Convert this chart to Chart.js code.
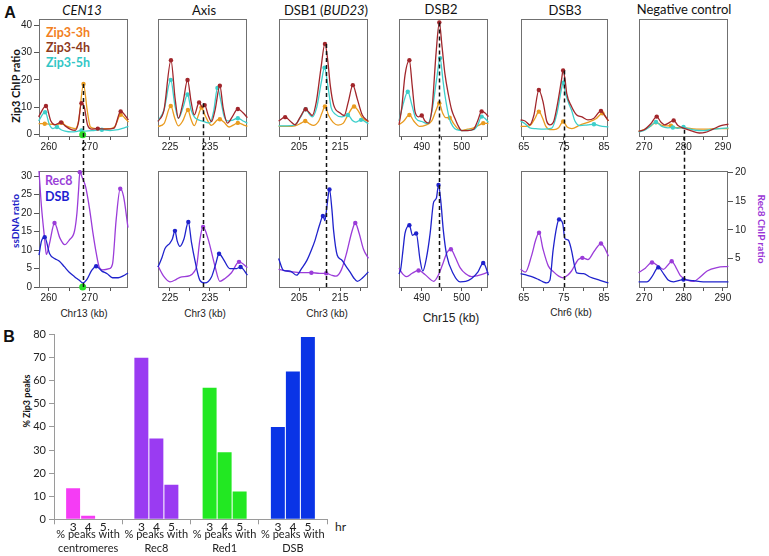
<!DOCTYPE html>
<html>
<head>
<meta charset="utf-8">
<title>Zip3 ChIP profiles and peak overlap</title>
<script src="https://cdn.jsdelivr.net/npm/chart.js@4.4.1/dist/chart.umd.min.js"></script>
<style>
  html, body { margin: 0; padding: 0; background: #fff; }
  #fig { position: relative; width: 769px; height: 556px; overflow: hidden; font-family: Lato, "Open Sans", sans-serif; color: #111; }
  #fig canvas { position: absolute; }
  .txt { position: absolute; white-space: nowrap; line-height: 1; transform: translate(-50%, -50%); }
  .txt.left { transform: translate(0, -50%); }
  .txt.up { transform: translate(-50%, -50%) rotate(-90deg); }
  .txt.down { transform: translate(-50%, -50%) rotate(90deg); }
  .ttl { font-size: 13px; }
  .leg { font-size: 12.5px; font-weight: bold; }
  .kb { font-family: "Liberation Sans", Arial, sans-serif; font-size: 10px; color: #222; }
  .yt { font-weight: bold; }
  .tag { font-family: "Liberation Sans", Arial, sans-serif; font-weight: bold; font-size: 16px; }
</style>
</head>
<body>
<div id="fig">
  <div class="txt tag" style="left:10px;top:13px">A</div>
  <div class="txt tag" style="left:9px;top:337px">B</div>

  <div class="txt ttl" style="left:82px;top:10px"><i>CEN13</i></div>
  <div class="txt ttl" style="left:204px;top:10px">Axis</div>
  <div class="txt ttl" style="left:326px;top:10px">DSB1 (<i>BUD23</i>)</div>
  <div class="txt ttl" style="left:441px;top:9px">DSB2</div>
  <div class="txt ttl" style="left:565px;top:10px">DSB3</div>
  <div class="txt ttl" style="left:684px;top:9px">Negative control</div>

  <div class="txt left leg" style="left:46px;top:33px;color:#F2801E">Zip3-3h</div>
  <div class="txt left leg" style="left:46px;top:48px;color:#8E3A1C">Zip3-4h</div>
  <div class="txt left leg" style="left:46px;top:63px;color:#33C6C6">Zip3-5h</div>
  <div class="txt left leg" style="left:45px;top:181px;color:#9B3FD8">Rec8</div>
  <div class="txt left leg" style="left:45px;top:197px;color:#1E1ED2">DSB</div>

  <div class="txt up yt" style="left:15px;top:86px;font-size:11px">Zip3 ChIP ratio</div>
  <div class="txt up yt" style="left:15px;top:221px;font-size:10px;color:#2323C8">ssDNA ratio</div>
  <div class="txt down yt" style="left:762px;top:229px;font-size:10px;color:#9A35D6">Rec8 ChIP ratio</div>
  <div class="txt up yt" style="left:26px;top:401px;font-size:9px">% Zip3 peaks</div>

  <div class="txt kb" style="left:84px;top:314px">Chr13 (kb)</div>
  <div class="txt kb" style="left:205px;top:314px">Chr3 (kb)</div>
  <div class="txt kb" style="left:327px;top:314px">Chr3 (kb)</div>
  <div class="txt kb" style="left:451px;top:318px;font-size:12px">Chr15 (kb)</div>
  <div class="txt kb" style="left:571px;top:313px">Chr6 (kb)</div>

  <div class="txt left" style="left:335px;top:527px;font-size:12px;color:#222">hr</div>
</div>
<script>
// ---- panel A, top row: Zip3 ChIP ratio, [kb, ratio]
const cen13Zip3h = [[257.5,4],[259,4],[260.5,3.8],[262,3.6],[263.2,4.3],[264.2,3.2],[265.5,2.5],[266.5,2.2],[267.3,5],[268.5,18.5],[269.4,9],[270.2,2.8],[271.5,2.2],[273,2.2],[275,2.2],[276.2,3],[277.6,7.3],[278.5,6.3],[279.5,4.6]];
const cen13Zip4h = [[257.5,6.5],[259.3,10.5],[260.5,5],[261.5,3.6],[263,4.5],[264,3.2],[265.5,1.8],[266.5,1.6],[267.2,4],[268,11.5],[268.7,10],[269.5,3.5],[270.5,2],[272,2.2],[274,2],[276,2.4],[277.6,8.5],[279.5,5.4]];
const cen13Zip5h = [[257.5,5],[259.1,8.2],[260.2,3.5],[261,2.2],[262,2.8],[263,1.8],[264,1.3],[265.5,1],[267,1.2],[268,1.5],[269,1.3],[271,1.5],[273,1.8],[275,1.5],[277,1.8],[278.5,2.5],[279.5,3]];

const axisZip3h = [[222,3],[223.5,4],[225.2,10.5],[226.2,6],[227.1,3.2],[228.2,5],[229.5,9],[230.3,5.5],[231.1,3.3],[232.1,7],[232.9,9.9],[233.8,7],[235.4,3.4],[236.9,5.4],[237.5,5.6],[238.5,4.6],[239.8,2.8],[241,3.6],[242,4.3],[243.5,3.5],[244.4,3]];
const axisZip4h = [[222,4.8],[223.5,9],[225.25,27.2],[226.3,13],[227.1,6],[228.3,12],[229.4,20],[230.3,12],[231.1,7.2],[232.3,11.8],[233.1,10],[233.7,10.8],[234.6,7],[235.4,4.8],[236.3,9],[237.5,17.9],[238.3,10],[239.4,4.2],[240.6,6.5],[242,9.4],[243.3,8],[244.4,6.2]];
const axisZip5h = [[222,5],[223.5,9],[225.2,20],[226.2,11],[227.1,6],[228.3,10],[229.4,14.7],[230.3,9],[231.1,6.5],[232,5.5],[233,5],[234,4.5],[235,4.3],[236,9],[236.9,17.1],[237.8,12],[238.5,7],[239.4,5],[240.5,5.2],[242,6],[243.3,5],[244.4,4.2]];

const dsb1Zip3h = [[200,3],[202,3],[204,3.2],[205.5,4.2],[206.5,5],[207.5,4],[208.5,3.4],[209.8,5],[210.6,8],[211.3,10.3],[212.2,7],[213.3,4.5],[214.5,3.5],[215.8,4.2],[217,7.5],[218.4,10.3],[219.3,9],[220.5,6],[221.9,4.8]];
const dsb1Zip4h = [[200,5],[201.6,6.4],[202.8,5],[204,3.6],[205.3,6.5],[206.6,9.3],[207.5,8],[208.2,7],[209.2,12],[210.3,24],[211.3,33.2],[212,27],[212.6,18],[213.4,11],[215,7.9],[216,7],[217,12],[218.1,18.1],[219.2,13],[220.4,7.2],[221.9,4.8]];
const dsb1Zip5h = [[200,3.2],[202,3.2],[204,3.6],[205.4,6.5],[206.6,9.3],[207.5,7.5],[208.2,6.5],[209.3,10],[210.4,19],[211.2,24.5],[212,18],[212.8,10],[213.8,7.5],[215.4,6.5],[216.9,7.2],[218,5.2],[218.8,4.6],[220.1,5.4],[221.9,4]];

const dsb2Zip3h = [[484.3,3.6],[485.5,5],[486.9,7.2],[488,5],[489.5,3],[491,3.5],[492.5,5],[493.6,9],[494.4,11.5],[495.2,8],[496,6.2],[497,6.2],[498,4],[499,2.2],[500,1.5],[501.5,2],[503,2.5],[504.5,3.6],[505.4,4.2],[506.7,4]];
const dsb2Zip4h = [[484.3,3.6],[485,10],[485.8,21.7],[486.9,27.2],[487.6,18],[488.3,8.5],[489.2,6.5],[490,7],[490.8,5],[491.7,4.2],[492.6,10],[493.6,30],[494.4,41],[495.1,32],[495.8,22.3],[496.7,14.5],[497.5,9],[498.3,6],[499.2,3],[500,1.5],[501.5,1.5],[503,2],[504,5],[505,8.5],[505.8,8],[506.7,6.6]];
const dsb2Zip5h = [[484.3,5],[485.5,12],[486.5,15.7],[487.5,11],[488.5,6],[490,4.8],[491.5,4],[492.6,9],[493.7,20],[494.6,28],[495.3,20],[495.8,14.5],[496.9,6],[497.8,3],[498.7,1.8],[500.5,1.5],[503,1.8],[504,3.5],[505,6.6],[505.8,6],[506.7,4.5]];

const dsb3Zip3h = [[64.2,3],[65.5,3],[66.7,3.5],[67.8,6],[68.75,8.4],[69.7,6],[70.5,3],[71.5,1.8],[72.5,1.8],[73.7,2.5],[74.8,4.8],[75.8,2.8],[77,2.2],[79,3.5],[81,4.5],[83,5.8],[84.6,7.8],[85.4,6.5],[86.1,5]];
const dsb3Zip4h = [[64.2,5.4],[65.3,5],[66.5,3.6],[67.5,7],[68.75,16.3],[69.8,12],[70.7,5],[71.5,3.6],[72.5,5],[73.5,12],[74.4,20],[74.8,23.5],[75.3,20],[75.7,15.1],[76.9,10.3],[78.2,7.2],[79.5,6.5],[81,5.4],[82.5,6],[84.25,8.7],[85.2,7],[86.1,5]];
const dsb3Zip5h = [[64.2,5],[65.3,4],[66.5,2.5],[68,2.2],[70,2],[72,2.4],[73.3,8],[74.3,16],[74.8,19],[75.4,15],[76.2,11.5],[76.9,9],[77.75,5],[79,3.3],[81,3.6],[82.5,3.8],[84,3.2],[86.1,2.8]];

const negZip3h = [[268.6,1.2],[270,1.8],[271.5,3],[273,4.5],[274.5,3.4],[276,3.2],[276.8,3.3],[278,2.6],[280,2.5],[282,2.2],[284,2],[286,2],[288,2.2],[290,2.2],[291.4,2.2]];
const negZip4h = [[268.6,1.2],[270,1.8],[271.7,4],[273.2,6.6],[274.3,4.5],[275.2,3.6],[276.3,4.3],[277.5,5.2],[278.6,3.3],[280,2.4],[282,1.4],[284,0.6],[285.5,0.8],[287.5,2],[289.5,3.3],[291.4,3.8]];
const negZip5h = [[268.6,1],[270,1.5],[271.5,3],[273,4.6],[274.5,3],[276,2.5],[277.3,2.6],[278.5,2.3],[280,2.8],[281,2.3],[283,1.6],[285,1.5],[287,1.8],[289,2.2],[291.4,2.5]];

// ---- panel A, bottom row: DSB ssDNA ratio (left axis) and Rec8 ChIP ratio (right axis)
const cen13Dsb = [[257.6,8.6],[258.2,12.4],[259,13.5],[260.2,9],[261.4,7.7],[262.6,7],[263.8,5.5],[265,4],[266.3,2.8],[267.5,1.8],[268.3,1.1],[269.3,2],[270.5,4.5],[271.6,5.6],[273,4.3],[274.3,3.6],[275.6,2.5],[277,2.5],[278.2,3],[279.4,3.8]];
const cen13Rec8 = [[257.6,20.3],[258.2,14.1],[259,8.3],[259.4,5.7],[260.2,7.7],[261.4,11.2],[262.7,8.6],[263.9,7.4],[265.1,8.3],[266.3,9.8],[266.9,13],[267.3,17],[267.6,20.1],[268.2,19.1],[269,17.6],[270,13.6],[270.8,9.5],[271.6,6],[272.4,3.4],[273.2,3],[274.8,3.2],[275.6,4],[276.5,11.8],[277.5,17.2],[278.3,15.9],[279.4,10.4]];

const axisDsb = [[222,5.4],[223,8],[223.75,10.4],[225,11.9],[225.6,13],[226.25,15.2],[226.8,12.5],[227.5,11],[228.5,13],[229.6,17.6],[230.4,12],[231.25,7.2],[232.5,1.8],[233.75,1.1],[235.4,2.7],[236.4,6],[237.3,9],[238.4,7.5],[240,5],[241.7,5],[242.7,5.4],[244.4,3.2]];
const axisRec8 = [[222,3.7],[223.5,1.8],[225,0.9],[226.5,1.3],[227.5,1.7],[230,2],[231,2.6],[231.7,3.7],[232.5,8.3],[233.3,10.5],[234.6,8.3],[236.25,3.7],[237.5,1],[238.8,1.5],[240.4,2.5],[242.3,4.4],[244.4,3.4]];

const dsb1Dsb = [[200,7.7],[201.2,4.5],[202.8,4.3],[204.4,3.2],[205.6,5],[206.9,7.2],[208,10],[208.9,12.7],[209.5,15],[210.1,17.2],[210.8,19.2],[211.3,18],[211.8,22],[212.4,26.4],[213,21],[213.4,15.4],[214.3,8.6],[215.4,7.3],[216.5,5.5],[217.4,4.1],[218.3,2.5],[219.2,1.5],[220.5,2.5],[221.9,4.1]];
const dsb1Rec8 = [[200,3.1],[202,2.8],[204,2.6],[206,2.5],[208,2.5],[210,2.4],[211.6,2.4],[212.8,2.1],[214,1.9],[215.3,3],[216.6,6],[217.8,9.5],[218.7,11.2],[219.6,9.5],[220.7,6.6],[221.9,5]];

const dsb2Dsb = [[484.3,3.5],[484.75,5],[485.3,10],[485.8,14.5],[486.9,16.7],[487.7,14],[488.6,14.5],[489.6,7.2],[490.25,4.3],[491.2,8],[492.1,14.5],[492.9,22.6],[493.3,23.5],[493.7,24.2],[494.2,27.6],[494.75,23.5],[495.4,15.4],[496.25,8.6],[497.9,3.6],[499.6,1.4],[501,1.5],[502.5,2.3],[504.1,4.1],[505.4,6.5],[506,5.5],[506.7,3.2]];
const dsb2Rec8 = [[484.3,3.3],[485.2,2.3],[486.25,1.8],[487.6,2.4],[489.2,2.9],[490.8,2.2],[493,1],[494.3,2.3],[495.4,4.3],[496.3,6],[497.3,6.6],[498.4,5.2],[499.6,3.4],[501,2.3],[502.5,1.8],[504,2],[505.5,2.3],[506.7,2.6]];

const dsb3Dsb = [[64.2,3.6],[65.7,3.2],[67.3,2.7],[68.7,2],[69.8,1.4],[70.7,1.1],[71.5,1.8],[72.3,9.9],[73.2,16.3],[73.8,18.3],[74.7,17.2],[75.25,13.1],[76.1,12.7],[76.9,9.9],[77.6,6],[78.2,3.8],[79.9,3.6],[81.5,2.7],[84,1.8],[86.1,1.1]];
const dsb3Rec8 = [[64.2,3.1],[65.4,2.6],[66.9,5.4],[68,8.3],[68.8,9.5],[69.8,6.6],[71.1,3.7],[72.5,2.6],[73.7,1.9],[74.8,1.6],[76,2.1],[76.9,2.8],[78.6,4.8],[79.6,5.1],[81,4.8],[82.6,6.3],[84.25,7.6],[85.2,6.8],[86.1,5.4]];

const negDsb = [[268.6,1.4],[270.7,1.4],[272,2.8],[273.6,5.3],[275,3.5],[276.2,1.8],[277.5,1.4],[280,2],[282.5,1.7],[285,1.4],[288,1.4],[291.4,1.4]];
const negRec8 = [[268.6,2.5],[270.3,3.3],[272,4.3],[273.5,3.7],[274.9,3.1],[276,3.8],[277,4.5],[278.1,3.4],[279.2,2],[281,1.2],[282.6,1],[284.3,1.8],[286,2.8],[288.5,3.4],[291.4,3.6]];

// centromere position marker, dashed line positions and where the line starts in the top row
const cen13Mark = [[268.3, 0]];
const dashAt = [268.3, 233.2, 211.5, 494.4, 75, 280];
const dashTop = [18.5, 11.5, 33.2, 41, 23.5, 1.8];

// axes: ranges (kb), tick positions and labelled ticks
const xRanges = [[257.6, 279.4], [222, 244.3], [200.1, 221.8], [484.3, 506.6], [64.3, 86], [268.7, 291.3]];
const xTicks = [[260, 265, 270, 275], [225, 230, 235, 240], [205, 210, 215, 220], [485, 490, 495, 500, 505], [65, 70, 75, 80, 85], [270, 275, 280, 285, 290]];
const xLabels = [[260, 270], [225, 235], [205, 215], [490, 500], [65, 75, 85], [270, 280, 290]];
const zipTicks = [0, 10, 20, 30, 40];
const dsbTicks = [0, 5, 10, 15, 20, 25, 30];
const rec8Ticks = [5, 10, 15, 20];

// ---- panel B
const barGroups = [['% peaks with', 'centromeres'], ['% peaks with', 'Rec8'], ['% peaks with', 'Red1'], ['% peaks with', 'DSB']];
const barHours = ['3', '4', '5'];
const peaks3h = [13.5, 70, 57, 40];
const peaks4h = [1.5, 35, 29, 64];
const peaks5h = [0, 15, 12, 79];

// ---- styles and layout
const zipColors = { h3: '#E99B1F', h4: '#A1262B', h5: '#3DCFCB' };
const dsbColor = '#1F22CC', rec8Color = '#9B3CD9';
const groupColors = ['#F53CF5', '#9A3BF2', '#22E822', '#0A34E6'];
const frames = [[39, 128], [158, 247], [279, 368], [399, 488], [521, 608], [639, 728]];

const topZip = [
  [cen13Zip4h, cen13Zip5h, cen13Zip3h], [axisZip4h, axisZip5h, axisZip3h], [dsb1Zip4h, dsb1Zip5h, dsb1Zip3h],
  [dsb2Zip4h, dsb2Zip5h, dsb2Zip3h], [dsb3Zip4h, dsb3Zip5h, dsb3Zip3h], [negZip4h, negZip5h, negZip3h]
];
const bottomDsb = [cen13Dsb, axisDsb, dsb1Dsb, dsb2Dsb, dsb3Dsb, negDsb];
const bottomRec8 = [cen13Rec8, axisRec8, dsb1Rec8, dsb2Rec8, dsb3Rec8, negRec8];

Chart.defaults.font.family = '"Liberation Sans", Arial, sans-serif';
Chart.defaults.font.size = 10;
Chart.defaults.color = '#222';

const pts = (arr) => arr.map(([x, y]) => ({ x, y }));

const peakRadius = (ctx) => {
  const d = ctx.dataset.data, i = ctx.dataIndex;
  if (i === 0 || i === d.length - 1) return 0;
  return d[i].y >= d[i - 1].y && d[i].y > d[i + 1].y ? 2.2 : 0;
};

const lineSet = (arr, color, axis) => ({
  data: pts(arr), yAxisID: axis || 'y', borderColor: color, backgroundColor: color,
  borderWidth: 1.3, pointRadius: peakRadius, pointBorderWidth: 0, pointBackgroundColor: color,
  cubicInterpolationMode: 'monotone', fill: false, clip: 1
});

const markSet = (arr) => ({
  data: pts(arr), showLine: false, pointRadius: 3.5, pointBorderWidth: 0, pointBackgroundColor: '#2BE02B', clip: false
});

const framePlugin = {
  id: 'frame',
  beforeDatasetsDraw(chart) {
    const { ctx, chartArea: a } = chart;
    ctx.save();
    ctx.strokeStyle = '#707070';
    ctx.lineWidth = 1;
    ctx.strokeRect(a.left + 0.5, a.top + 0.5, a.width - 1, a.height);
    ctx.restore();
  }
};

const dashPlugin = {
  id: 'dash',
  afterDraw(chart, args, o) {
    if (o.x == null) return;
    const { ctx, chartArea: a, scales } = chart;
    const px = Math.round(scales.x.getPixelForValue(o.x)) + 0.5;
    const y0 = o.from != null ? scales.y.getPixelForValue(o.from) : a.top;
    const y1 = o.from != null ? chart.height : a.bottom;
    ctx.save();
    ctx.setLineDash([4, 3]);
    ctx.lineWidth = 1.5;
    ctx.strokeStyle = '#111';
    ctx.beginPath(); ctx.moveTo(px, y0); ctx.lineTo(px, y1); ctx.stroke();
    ctx.restore();
  }
};

const hourPlugin = {
  id: 'hours',
  afterDatasetsDraw(chart) {
    const { ctx, chartArea: a } = chart;
    ctx.save();
    ctx.font = '12px Lato';
    ctx.fillStyle = '#222';
    ctx.textAlign = 'center';
    ctx.textBaseline = 'middle';
    chart.data.datasets.forEach((ds, i) => chart.getDatasetMeta(i).data.forEach((el) => ctx.fillText(ds.label, el.x, a.bottom + 8)));
    ctx.restore();
  }
};

function addCanvas(left, top, w, h) {
  const c = document.createElement('canvas');
  c.width = w; c.height = h;
  c.style.left = left + 'px'; c.style.top = top + 'px';
  c.style.width = w + 'px'; c.style.height = h + 'px';
  document.getElementById('fig').appendChild(c);
  return c;
}

const xScale = (i, h) => ({
  type: 'linear', min: xRanges[i][0], max: xRanges[i][1],
  afterBuildTicks: (s) => { s.ticks = xTicks[i].map((v) => ({ value: v })); },
  afterFit: (s) => { s.height = h; },
  ticks: { callback: (v) => (xLabels[i].includes(v) ? String(v) : ''), autoSkip: false, maxRotation: 0, padding: 1 },
  grid: { drawOnChartArea: false, tickLength: 4, color: '#555' },
  border: { display: false }
});

const yScale = (min, max, ticks, show, pos) => ({
  type: 'linear', position: pos, min, max, display: show,
  afterBuildTicks: (s) => { s.ticks = ticks.map((v) => ({ value: v })); },
  afterFit: (s) => { if (show) s.width = 40; },
  ticks: { padding: 2, autoSkip: false },
  grid: { drawOnChartArea: false, tickLength: 5, color: '#555' },
  border: { display: false }
});

const base = { responsive: false, animation: false, events: [], devicePixelRatio: 1 };

frames.forEach(([l, r], i) => {
  const w = r - l + 80;

  const topSets = [lineSet(topZip[i][0], zipColors.h4), lineSet(topZip[i][1], zipColors.h5), lineSet(topZip[i][2], zipColors.h3)];
  if (i === 0) topSets.unshift(markSet(cen13Mark));
  new Chart(addCanvas(l - 40, 0, w, 171), {
    type: 'line',
    data: { datasets: topSets },
    options: {
      ...base,
      layout: { padding: { top: 19, left: i === 0 ? 0 : 40, right: 40, bottom: 0 } },
      plugins: { legend: { display: false }, tooltip: { enabled: false }, dash: { x: dashAt[i], from: dashTop[i] } },
      scales: { x: xScale(i, 35), y: yScale(-0.5, 42.3, zipTicks, i === 0, 'left') }
    },
    plugins: [framePlugin, dashPlugin]
  });

  const botSets = [lineSet(bottomDsb[i], dsbColor, 'y'), lineSet(bottomRec8[i], rec8Color, 'y1')];
  if (i === 0) botSets.unshift(markSet(cen13Mark));
  new Chart(addCanvas(l - 40, 160, w, 170), {
    type: 'line',
    data: { datasets: botSets },
    options: {
      ...base,
      layout: { padding: { top: 11, left: i === 0 ? 0 : 40, right: i === 5 ? 0 : 40, bottom: 0 } },
      plugins: { legend: { display: false }, tooltip: { enabled: false }, dash: { x: dashAt[i] } },
      scales: {
        x: xScale(i, 43),
        y: yScale(0, 31.4, dsbTicks, i === 0, 'left'),
        y1: yScale(0, 20.3, rec8Ticks, i === 5, 'right')
      }
    },
    plugins: [framePlugin, dashPlugin]
  });
});

new Chart(addCanvas(0, 325, 345, 231), {
  type: 'bar',
  data: {
    labels: barGroups,
    datasets: [peaks3h, peaks4h, peaks5h].map((d, i) => ({
      label: barHours[i], data: d, backgroundColor: groupColors, borderWidth: 0,
      barPercentage: 0.93, categoryPercentage: 0.66
    }))
  },
  options: {
    ...base,
    layout: { padding: { top: 8, right: 18, left: 0, bottom: 0 } },
    plugins: { legend: { display: false }, tooltip: { enabled: false } },
    scales: {
      x: {
        grid: { offset: true, drawOnChartArea: false, tickLength: 5, color: '#9a9a9a' },
        border: { color: '#9a9a9a' },
        ticks: { font: { family: 'Lato', size: 11 }, color: '#222', padding: 4, maxRotation: 0, autoSkip: false },
        afterFit: (s) => { s.height = 36.7; }
      },
      y: {
        min: 0, max: 80,
        ticks: { stepSize: 10, font: { family: 'Lato', size: 11 }, color: '#222', padding: 3 },
        grid: { drawOnChartArea: false, tickLength: 5, color: '#9a9a9a' },
        border: { color: '#9a9a9a' },
        afterFit: (s) => { s.width = 54; }
      }
    }
  },
  plugins: [hourPlugin]
});
</script>
</body>
</html>
